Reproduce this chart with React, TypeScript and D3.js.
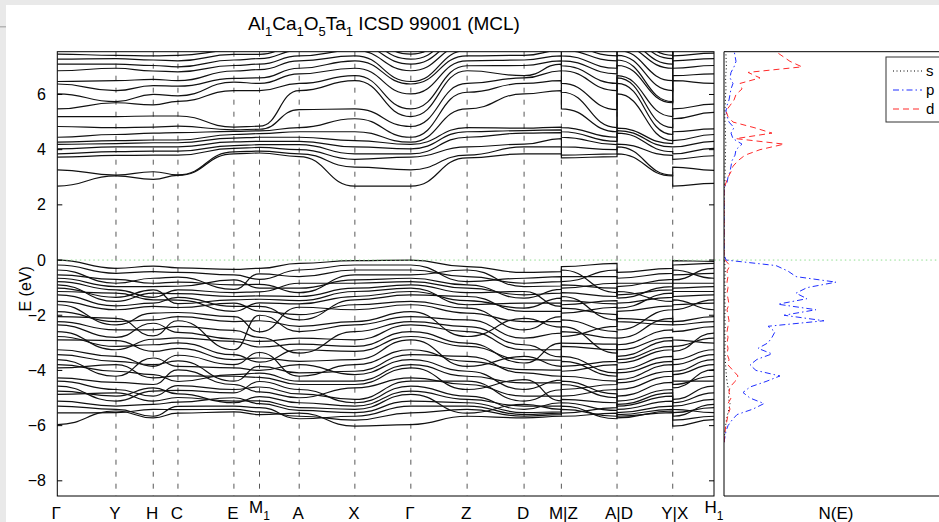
import React from "react";
import * as d3 from "d3";

// high-symmetry path
const kLabels = ["Γ", "Y", "H", "C", "E", "M1", "A", "X", "Γ", "Z", "D", "M|Z", "A|D", "Y|X", "H1"];
const kTicks = [0, 0.587, 0.96, 1.207, 1.767, 2.023, 2.42, 2.977, 3.537, 4.1, 4.67, 5.043, 5.6, 6.157, 6.57];
const energyTicks = [-8, -6, -4, -2, 0, 2, 4, 6];

// band energies (eV) at each point, one entry per band (valence, then conduction)
const vbGamma = [0.0, -0.18, -0.36, -0.54, -0.66, -0.78, -0.9, -1.02, -1.14, -1.26, -1.5, -1.62, -1.87, -2.05, -2.23, -2.35, -2.59, -2.77, -2.89, -3.25, -3.43, -3.61, -3.79, -3.91, -4.27, -4.39, -4.57, -4.75, -4.87, -5.11, -5.29, -5.54, -5.96];
const vbY = [-0.3, -0.48, -0.84, -0.7, -0.96, -1.08, -1.5, -1.35, -1.2, -1.66, -1.8, -2.35, -2.23, -2.11, -2.53, -2.8, -3.25, -3.13, -2.92, -3.49, -3.67, -4.21, -4.03, -3.79, -4.43, -4.69, -5.11, -4.93, -4.81, -5.29, -5.41, -5.53, -5.47];
const vbH = [-0.22, -0.42, -0.66, -0.84, -0.96, -1.35, -1.2, -1.08, -1.44, -1.56, -1.68, -1.92, -2.17, -2.75, -2.53, -2.29, -2.87, -3.07, -3.31, -3.85, -3.79, -3.55, -4.15, -4.27, -4.51, -4.93, -4.75, -4.63, -5.11, -5.23, -5.66, -5.41, -5.72];
const vbC = [-0.28, -0.45, -0.62, -0.8, -0.95, -1.08, -1.22, -1.58, -1.45, -1.35, -1.72, -1.9, -2.05, -2.2, -2.4, -2.62, -2.82, -3.0, -3.2, -3.45, -3.65, -3.85, -4.4, -4.2, -3.98, -4.55, -4.72, -4.85, -4.98, -5.15, -5.3, -5.42, -5.55];
const vbE = [-0.34, -0.54, -1.06, -0.9, -0.72, -1.18, -1.32, -1.44, -1.86, -1.68, -1.56, -2.05, -2.23, -3.25, -2.55, -2.86, -2.95, -3.43, -3.61, -3.79, -4.39, -3.91, -4.15, -4.21, -4.51, -4.69, -4.81, -5.17, -5.11, -4.99, -5.29, -5.41, -5.5];
const vbM1 = [-0.3, -0.7, -0.5, -0.88, -1.02, -1.15, -1.3, -1.42, -1.55, -1.68, -1.85, -2.6, -2.2, -2.0, -2.8, -2.95, -3.15, -3.7, -3.55, -3.35, -3.85, -4.0, -4.1, -4.25, -4.78, -4.6, -4.4, -4.95, -5.1, -5.2, -5.35, -5.5, -5.6];
const vbA = [-0.12, -0.36, -0.6, -1.18, -1.02, -0.84, -1.32, -1.47, -1.59, -2.17, -1.98, -1.71, -2.4, -2.59, -3.37, -2.83, -3.05, -3.25, -3.67, -4.21, -4.09, -3.79, -4.39, -4.51, -4.99, -4.85, -4.69, -5.17, -5.35, -5.45, -5.75, -5.66, -5.55];
const vbX = [-0.02, -0.18, -0.36, -0.54, -0.72, -0.84, -1.02, -1.14, -1.32, -1.44, -1.62, -1.8, -2.23, -2.35, -2.59, -2.89, -3.13, -3.31, -3.61, -3.79, -4.03, -4.15, -4.39, -4.51, -4.63, -5.05, -5.17, -5.29, -5.41, -5.53, -5.66, -5.8, -6.02];
const vbZ = [-0.24, -0.78, -0.6, -0.36, -0.9, -1.02, -1.18, -1.62, -1.47, -1.32, -1.74, -1.92, -2.77, -2.17, -2.41, -2.59, -3.01, -3.13, -3.85, -3.67, -3.49, -4.03, -4.21, -4.69, -4.51, -4.39, -4.93, -5.05, -5.55, -5.17, -5.29, -5.41, -5.66];
const vbD = [-0.45, -0.66, -0.84, -0.96, -1.38, -1.26, -1.14, -1.56, -1.74, -1.86, -2.53, -2.23, -2.11, -2.83, -3.07, -3.25, -3.73, -3.61, -3.49, -3.97, -4.09, -4.69, -4.45, -4.33, -4.93, -5.11, -5.41, -5.29, -5.23, -5.53, -5.6, -5.66, -5.72];
const vbM = [-0.42, -0.6, -0.78, -0.94, -1.06, -1.2, -1.68, -1.56, -1.38, -1.86, -2.05, -2.23, -2.43, -2.65, -3.51, -3.25, -3.01, -3.63, -3.85, -3.99, -4.21, -4.35, -4.45, -5.1, -4.93, -4.7, -5.17, -5.29, -5.41, -5.5, -5.55, -5.6, -5.66];
const vbH1 = [-0.05, -0.12, -0.66, -0.48, -0.3, -0.84, -0.96, -1.14, -1.26, -1.8, -1.56, -1.44, -2.05, -2.23, -2.41, -3.01, -2.83, -2.65, -3.25, -3.43, -3.61, -3.79, -4.39, -4.21, -3.97, -4.57, -4.81, -5.05, -5.53, -5.35, -5.23, -5.66, -5.78];

const cbGamma = [2.68, 3.27, 3.73, 3.85, 4.03, 4.19, 4.27, 4.45, 4.84, 5.2, 5.48, 6.02, 6.38, 6.47, 6.86, 7.1, 7.28, 7.46];
const cbY = [3.05, 3.08, 3.79, 3.93, 4.1, 4.22, 4.33, 4.55, 4.8, 5.2, 5.7, 5.74, 6.14, 6.5, 6.95, 7.1, 7.3, 7.42];
const cbH = [2.92, 3.2, 3.8, 3.95, 4.1, 4.25, 4.35, 4.6, 4.82, 5.22, 5.62, 6.0, 6.32, 6.55, 6.85, 7.05, 7.25, 7.4];
const cbC = [3.07, 3.09, 3.8, 3.95, 4.1, 4.25, 4.35, 4.62, 4.85, 5.22, 5.75, 5.95, 6.3, 6.5, 6.82, 7.0, 7.22, 7.42];
const cbE = [3.85, 3.92, 4.05, 4.15, 4.28, 4.42, 4.55, 4.66, 4.72, 4.82, 6.14, 6.45, 6.58, 6.85, 7.05, 7.25, 7.45, 7.6];
const cbM1 = [3.88, 3.95, 4.08, 4.18, 4.3, 4.45, 4.58, 4.68, 4.74, 4.85, 6.14, 6.4, 6.6, 6.9, 7.1, 7.3, 7.45, 7.65];
const cbA = [3.75, 3.85, 4.0, 4.18, 4.3, 4.45, 4.65, 4.8, 5.45, 6.14, 6.4, 6.75, 6.95, 7.22, 7.4, 7.6, 7.8, 8.0];
const cbX = [2.68, 3.37, 3.65, 3.85, 4.1, 4.33, 4.65, 5.12, 5.48, 6.5, 6.68, 6.95, 7.22, 7.4, 7.6, 7.8, 8.0, 8.2];
const cbZ = [3.7, 3.8, 4.1, 4.45, 4.65, 4.8, 5.48, 6.08, 6.4, 6.86, 7.04, 7.22, 7.4, 7.6, 7.8, 8.0, 8.2, 8.4];
const cbD = [3.85, 4.1, 4.2, 4.6, 4.69, 4.78, 6.02, 6.4, 6.6, 6.68, 7.05, 7.25, 7.42, 7.6, 7.8, 8.0, 8.2, 8.4];
const cbM = [3.85, 4.1, 4.4, 4.62, 4.72, 4.82, 6.14, 6.5, 6.86, 7.1, 7.22, 7.4, 7.6, 7.8, 8.0, 8.2, 8.4, 8.6];
const cbH1 = [2.78, 3.25, 3.78, 4.05, 4.3, 4.55, 4.75, 5.35, 5.65, 6.4, 6.75, 7.05, 7.3, 7.5, 7.7, 7.9, 8.1, 8.3];

// projected DOS (states/eV) on an energy grid
const dosEnergy = [-6.6, -6.4, -6.2, -6.0, -5.8, -5.6, -5.4, -5.2, -5.0, -4.8, -4.6, -4.4, -4.2, -4.0, -3.8, -3.6, -3.4, -3.2, -3.0, -2.8, -2.6, -2.4, -2.2, -2.0, -1.8, -1.6, -1.4, -1.2, -1.0, -0.8, -0.6, -0.4, -0.2, 0.0, 0.2, 0.4, 0.6, 0.8, 1.0, 1.2, 1.4, 1.6, 1.8, 2.0, 2.2, 2.4, 2.6, 2.8, 3.0, 3.2, 3.4, 3.6, 3.8, 4.0, 4.2, 4.4, 4.6, 4.8, 5.0, 5.2, 5.4, 5.6, 5.8, 6.0, 6.2, 6.4, 6.6, 6.8, 7.0, 7.2, 7.4, 7.6];
const dosS = [0, 0.02, 0.05, 0.08, 0.12, 0.18, 0.25, 0.3, 0.22, 0.28, 0.2, 0.15, 0.12, 0.1, 0.08, 0.06, 0.05, 0.04, 0.06, 0.05, 0.04, 0.06, 0.05, 0.04, 0.06, 0.05, 0.04, 0.05, 0.06, 0.04, 0.05, 0.06, 0.05, 0.02, 0, 0, 0, 0, 0, 0, 0, 0, 0, 0, 0, 0, 0, 0.04, 0.05, 0.06, 0.05, 0.07, 0.08, 0.06, 0.1, 0.07, 0.08, 0.06, 0.05, 0.04, 0.05, 0.06, 0.07, 0.08, 0.1, 0.09, 0.08, 0.1, 0.12, 0.11, 0.1, 0.09];
const dosP = [0, 0.05, 0.1, 0.2, 0.4, 0.65, 1.45, 2.0, 1.3, 0.95, 1.3, 2.1, 2.8, 1.6, 1.3, 1.65, 2.4, 1.7, 2.2, 2.4, 2.55, 2.2, 5.0, 3.0, 4.6, 2.7, 4.15, 3.6, 4.15, 5.6, 3.6, 3.2, 2.6, 0.1, 0, 0, 0, 0, 0, 0, 0, 0, 0, 0, 0, 0, 0, 0.15, 0.2, 0.3, 0.35, 0.4, 0.55, 0.6, 0.9, 0.45, 0.35, 0.5, 0.25, 0.15, 0.1, 0.15, 0.25, 0.3, 0.35, 0.45, 0.3, 0.35, 0.5, 0.6, 0.55, 0.5];
const dosD = [0, 0.02, 0.05, 0.1, 0.15, 0.2, 0.3, 0.2, 0.35, 0.25, 0.3, 0.55, 0.7, 0.45, 0.2, 0.25, 0.15, 0.2, 0.15, 0.2, 0.15, 0.2, 0.25, 0.2, 0.15, 0.25, 0.2, 0.15, 0.2, 0.15, 0.2, 0.15, 0.3, 0.05, 0, 0, 0, 0, 0, 0, 0, 0, 0, 0, 0, 0, 0, 0.1, 0.2, 0.35, 0.45, 0.7, 1.05, 1.8, 3.0, 0.6, 2.4, 1.5, 0.45, 0.2, 0.1, 0.3, 0.5, 0.6, 0.9, 0.8, 1.8, 1.2, 3.9, 3.3, 2.9, 2.5];

const valenceAt: Record<string, number[]> = { G: vbGamma, Y: vbY, H: vbH, C: vbC, E: vbE, M1: vbM1, A: vbA, X: vbX, Z: vbZ, D: vbD, M: vbM, H1: vbH1 };
const conductionAt: Record<string, number[]> = { G: cbGamma, Y: cbY, H: cbH, C: cbC, E: cbE, M1: cbM1, A: cbA, X: cbX, Z: cbZ, D: cbD, M: cbM, H1: cbH1 };
// point visited, index of its tick on the axis (jumps at M|Z, A|D, Y|X)
const pathNodes: [string, number][] = [["G", 0], ["Y", 1], ["H", 2], ["C", 3], ["E", 4], ["M1", 5], ["A", 6], ["X", 7], ["G", 8], ["Z", 9], ["D", 10], ["M", 11], ["Z", 11], ["A", 12], ["D", 12], ["Y", 13], ["X", 13], ["H1", 14]];

const W = 939, H = 522;
const panel = { left: 57.3, right: 714, top: 51.7, bottom: 496 };
const dosPanel = { left: 724, right: 964 };
const font = "'Liberation Sans', Arial, Helvetica, sans-serif";

export default function App() {
  const x = d3.scaleLinear().domain([0, 6.57]).range([panel.left, panel.right]);
  const y = d3.scaleLinear().domain([-8.55, 7.55]).range([panel.bottom, panel.top]);
  const xd = d3.scaleLinear().domain([0, 12]).range([dosPanel.left, dosPanel.right]);

  const bandLine = d3.line<[number, number]>()
    .x(d => x(d[0]))
    .y(d => y(d[1]))
    .curve(d3.curveBumpX);

  const bands: [number, number][][] = [];
  for (const table of [valenceAt, conductionAt]) {
    const n = table.G.length;
    for (let i = 0; i < n; i++) {
      bands.push(pathNodes.map(([p, t]) => [kTicks[t], table[p][i]] as [number, number]));
    }
  }

  const dosLine = (vals: number[]) =>
    d3.line<number>()
      .x(v => xd(v))
      .y((_, i) => y(dosEnergy[i]))(vals) || "";

  const tickLabel = (v: number) => (v < 0 ? "\u2212" + Math.abs(v) : String(v));

  const legend = [
    { name: "s", color: "#000", dash: "1,2.5", vals: dosS },
    { name: "p", color: "#1f2fff", dash: "6,3,1.5,3", vals: dosP },
    { name: "d", color: "#ff2a2a", dash: "6,4", vals: dosD },
  ];

  return (
    <svg width={W} height={H} style={{ position: "absolute", left: 0, top: 0 }} fontFamily={font}>
      <defs>
        <clipPath id="bandClip">
          <rect x={panel.left} y={panel.top} width={panel.right - panel.left} height={panel.bottom - panel.top} />
        </clipPath>
        <clipPath id="dosClip">
          <rect x={dosPanel.left} y={panel.top} width={dosPanel.right - dosPanel.left} height={panel.bottom - panel.top} />
        </clipPath>
      </defs>
      <rect width={W} height={H} fill="#e9e9e9" />
      <rect x={6} y={5} width={W - 6} height={H - 5} fill="#fff" />
      <rect x={0} y={26} width={6} height={1.5} fill="#b5b5b5" />

      {/* title */}
      <text x={384} y={30} textAnchor="middle" fontSize={19}>
        Al<tspan dy={6} fontSize={13}>1</tspan>
        <tspan dy={-6}>Ca</tspan><tspan dy={6} fontSize={13}>1</tspan>
        <tspan dy={-6}>O</tspan><tspan dy={6} fontSize={13}>5</tspan>
        <tspan dy={-6}>Ta</tspan><tspan dy={6} fontSize={13}>1</tspan>
        <tspan dy={-6}> ICSD 99001 (MCL)</tspan>
      </text>

      {/* band panel */}
      <g clipPath="url(#bandClip)">
        {kTicks.slice(1, -1).map((k, i) => (
          <line key={i} x1={x(k)} x2={x(k)} y1={panel.top} y2={panel.bottom}
            stroke="#444" strokeWidth={0.9} strokeDasharray="5,7" />
        ))}
        {bands.map((b, i) => (
          <path key={i} d={bandLine(b) || ""} fill="none" stroke="#111" strokeWidth={1.2} />
        ))}
      </g>
      <line x1={panel.left} x2={dosPanel.right} y1={y(0)} y2={y(0)} stroke="#8fdc8f" strokeWidth={1} strokeDasharray="1.5,3" />
      <rect x={panel.left} y={panel.top} width={panel.right - panel.left} height={panel.bottom - panel.top}
        fill="none" stroke="#000" strokeWidth={1} />
      {energyTicks.map(v => (
        <g key={v}>
          <line x1={panel.left} x2={panel.left + 5} y1={y(v)} y2={y(v)} stroke="#000" />
          <line x1={panel.right - 5} x2={panel.right} y1={y(v)} y2={y(v)} stroke="#000" />
          <text x={46} y={y(v) + 5.5} textAnchor="end" fontSize={16}>{tickLabel(v)}</text>
        </g>
      ))}
      {kLabels.map((lab, i) => {
        const sub = lab.endsWith("1") && lab.length === 2;
        return sub ? (
          <text key={i} x={x(kTicks[i])} y={513} textAnchor="middle" fontSize={17}>
            {lab[0]}<tspan dy={7} fontSize={12}>1</tspan>
          </text>
        ) : (
          <text key={i} x={x(kTicks[i]) + (lab.includes("|") ? 2 : -1)} y={519} textAnchor="middle" fontSize={17}>{lab}</text>
        );
      })}
      <text transform={`translate(31,${(panel.top + panel.bottom) / 2 + 15}) rotate(-90)`} textAnchor="middle" fontSize={16}>E (eV)</text>

      {/* DOS panel */}
      <g clipPath="url(#dosClip)">
        {legend.map(l => (
          <path key={l.name} d={dosLine(l.vals)} fill="none" stroke={l.color} strokeWidth={1} strokeDasharray={l.dash} />
        ))}
      </g>
      <line x1={dosPanel.left} x2={dosPanel.left} y1={panel.top} y2={panel.bottom} stroke="#000" />
      <line x1={dosPanel.left} x2={dosPanel.right} y1={panel.top} y2={panel.top} stroke="#000" />
      <line x1={dosPanel.left} x2={dosPanel.right} y1={panel.bottom} y2={panel.bottom} stroke="#000" />
      <text x={836} y={519} textAnchor="middle" fontSize={17}>N(E)</text>

      {/* legend */}
      <rect x={886} y={57} width={80} height={65} fill="#fff" stroke="#333" strokeWidth={1} />
      {legend.map((l, i) => (
        <g key={l.name}>
          <line x1={893} x2={922} y1={71 + i * 19} y2={71 + i * 19} stroke={l.color} strokeWidth={1} strokeDasharray={l.dash} />
          <text x={926} y={76 + i * 19} fontSize={15}>{l.name}</text>
        </g>
      ))}
    </svg>
  );
}
